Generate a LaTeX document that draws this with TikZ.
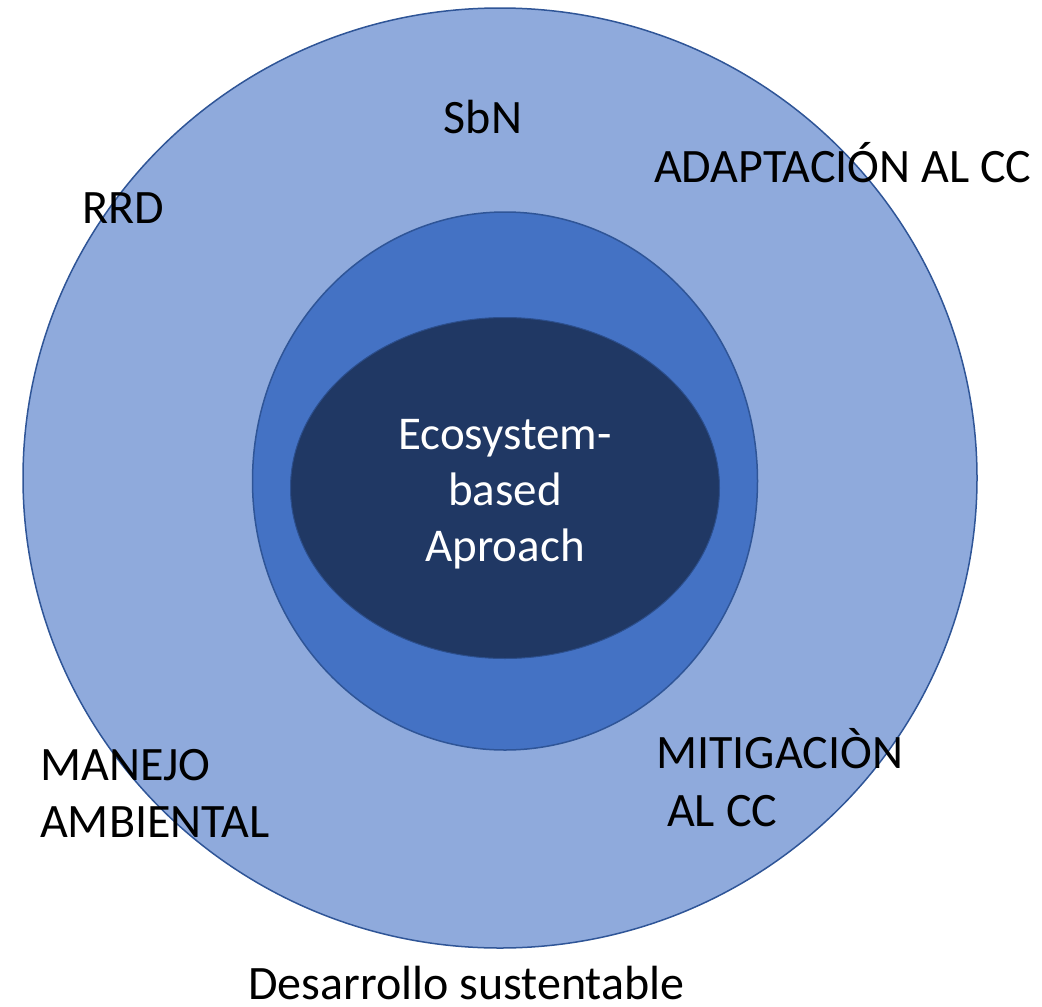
\documentclass[tikz,border=0pt]{standalone}
\usepackage{fontspec}
\setmainfont{Carlito}
\usetikzlibrary{shapes.geometric}
\definecolor{outerfill}{HTML}{8FAADC}
\definecolor{midfill}{HTML}{4472C4}
\definecolor{innerfill}{HTML}{203864}
\definecolor{ringline}{HTML}{2F5597}
\begin{document}
\begin{tikzpicture}[x=1pt,y=-1pt,
  ring/.style={ellipse,draw=ringline,line width=1.5pt,inner sep=0pt},
  lbl/.style={inner sep=0pt,anchor=base west,font=\fontsize{48}{56}\selectfont},
  clbl/.style={inner sep=0pt,anchor=base,font=\fontsize{47}{56}\selectfont}]
\useasboundingbox (0,0) rectangle (1042,1007);
\node[ring,fill=outerfill,minimum width=954pt,minimum height=940pt] (outer) at (500,478) {};
\node[ring,fill=midfill,minimum width=505pt,minimum height=538pt] (middle) at (505,481) {};
\node[ring,fill=innerfill,draw=ringline!80!innerfill,line width=1pt,minimum width=429pt,minimum height=341pt] (inner) at (505,488) {};
\node[clbl,text=white] (eco1) at (505,449) {Ecosystem-};
\node[clbl,text=white] (eco2) at (505,505) {based};
\node[clbl,text=white] (eco3) at (505,561) {Aproach};
\node[clbl,font=\fontsize{48}{56}\selectfont] (sbn) at (483,133) {SbN};
\node[lbl] (adapt) at (654,182) {ADAPTACIÓN AL CC};
\node[lbl] (rrd) at (82,223) {RRD};
\node[lbl] (man1) at (40,780) {MANEJO};
\node[lbl] (man2) at (40,837) {AMBIENTAL};
\node[lbl] (mit1) at (656,768) {MITIGACIÒN};
\node[lbl] (mit2) at (667,826) {AL CC};
\node[lbl] (desa) at (248,999) {Desarrollo sustentable};
\end{tikzpicture}
\end{document}
